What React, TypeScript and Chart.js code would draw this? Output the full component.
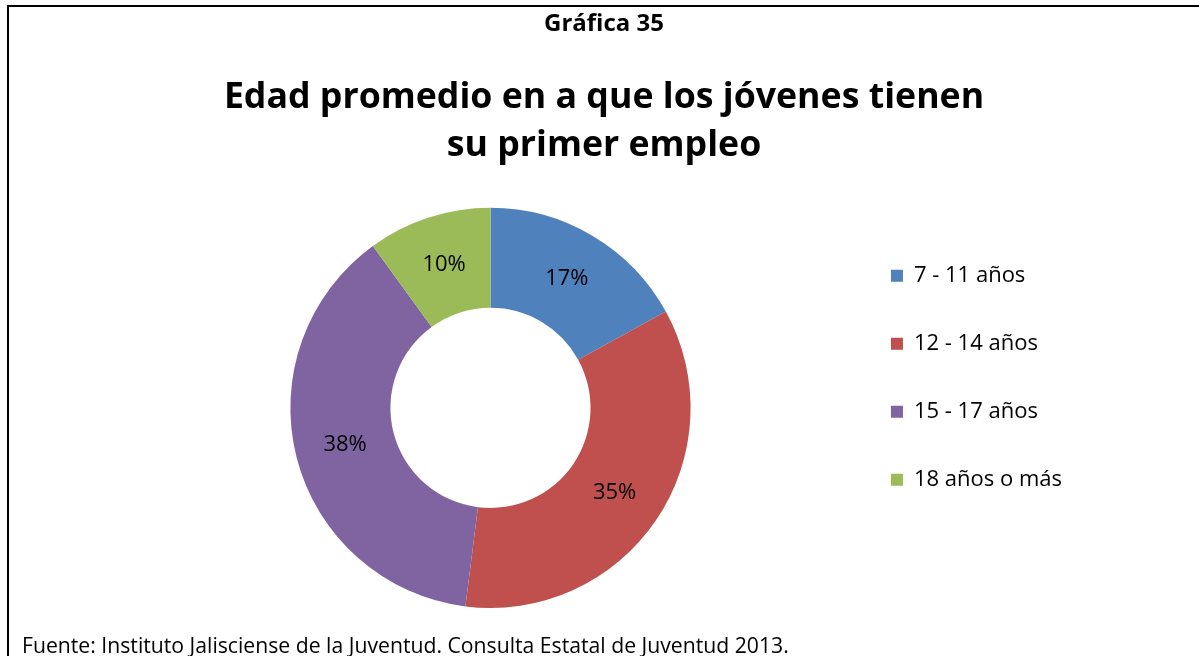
import React, { useEffect, useRef } from "react";
import { Chart, registerables } from "chart.js";

Chart.register(...registerables);

const categories: string[] = ["7 - 11 años", "12 - 14 años", "15 - 17 años", "18 años o más"];
const percentages: number[] = [17, 35, 38, 10];
const sliceColors: string[] = ["#4F81BD", "#C0504D", "#8064A2", "#9BBB59"];
const headerText = "Gráfica 35";
const titleLines: string[] = ["Edad promedio en a que los jóvenes tienen", "su primer empleo"];
const sourceText = "Fuente: Instituto Jalisciense de la Juventud. Consulta Estatal de Juventud 2013.";

const FONT = "'Open Sans', 'Noto Sans', sans-serif";

const labelPlugin = {
  id: "sliceLabels",
  afterDatasetsDraw(chart: any) {
    const ctx = chart.ctx;
    const meta = chart.getDatasetMeta(0);
    ctx.save();
    ctx.font = `22px ${FONT}`;
    ctx.fillStyle = "#000";
    ctx.textAlign = "center";
    ctx.textBaseline = "middle";
    meta.data.forEach((el: any, i: number) => {
      const p = el.tooltipPosition();
      ctx.fillText(`${percentages[i]}%`, p.x, p.y);
    });
    ctx.restore();
  },
};

const footerPlugin = {
  id: "sourceFooter",
  afterDraw(chart: any) {
    const ctx = chart.ctx;
    ctx.save();
    ctx.font = `21.2px ${FONT}`;
    ctx.fillStyle = "#000";
    ctx.textAlign = "left";
    ctx.textBaseline = "middle";
    ctx.fillText(sourceText, 13, 640);
    ctx.restore();
  },
};

export default function App() {
  const ref = useRef<HTMLCanvasElement | null>(null);
  useEffect(() => {
    if (!ref.current) return;
    const chart = new Chart(ref.current, {
      type: "doughnut",
      data: {
        labels: categories,
        datasets: [
          {
            data: percentages,
            backgroundColor: sliceColors,
            borderWidth: 0,
          },
        ],
      },
      options: {
        responsive: false,
        animation: false,
        cutout: "50%",
        layout: { padding: { left: 127, right: 127, top: 0, bottom: 48 } },
        plugins: {
          tooltip: { enabled: false },
          title: {
            display: true,
            text: headerText,
            color: "#000",
            font: { family: FONT, size: 24, weight: "bold", lineHeight: 1.2 },
            padding: { top: 3, bottom: 19 },
          },
          subtitle: {
            display: true,
            text: titleLines,
            color: "#000",
            font: { family: FONT, size: 35.7, weight: "bold", lineHeight: 48 / 35.7 },
            padding: { top: 16, bottom: 38 },
          },
          legend: {
            display: true,
            position: "right",
            align: "start",
            fullSize: false,
            title: { display: true, text: " ", font: { size: 5, lineHeight: 1.2 }, padding: { top: 5, bottom: 0 } },
            labels: {
              boxWidth: 12,
              boxHeight: 12,
              padding: 46,
              color: "#000",
              font: { family: FONT, size: 22 },
            },
          },
        },
      },
      plugins: [labelPlugin, footerPlugin],
    });
    return () => chart.destroy();
  }, []);

  return (
    <div
      style={{
        position: "fixed",
        left: 7,
        top: 5,
        width: 1220,
        height: 670,
        borderLeft: "2px solid #000",
        borderTop: "2px solid #000",
        background: "#fff",
      }}
    >
      <canvas ref={ref} width={1190} height={649} style={{ display: "block" }} />
    </div>
  );
}
